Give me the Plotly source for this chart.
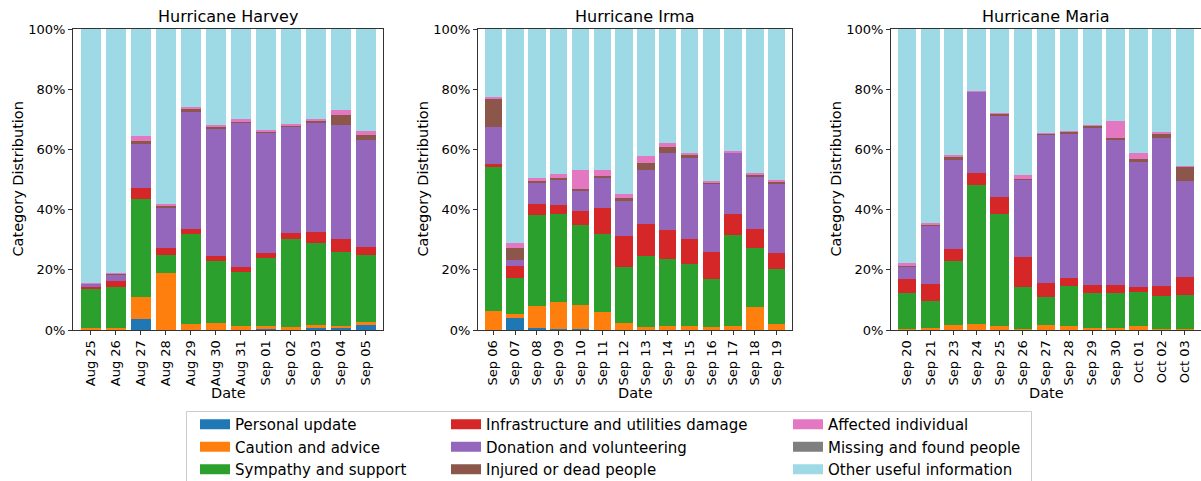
import plotly.graph_objects as go

# ---- categories and colours -------------------------------------------------
categories = [
    "Personal update",
    "Caution and advice",
    "Sympathy and support",
    "Infrastructure and utilities damage",
    "Donation and volunteering",
    "Injured or dead people",
    "Affected individual",
    "Missing and found people",
    "Other useful information",
]
colors = ["#1f77b4", "#ff7f0e", "#2ca02c", "#d62728", "#9467bd",
          "#8c564b", "#e377c2", "#7f7f7f", "#9edae5"]
storm_titles = ["Hurricane Harvey", "Hurricane Irma", "Hurricane Maria"]

# ---- Hurricane Harvey (share of tweets per day, %) ---------------------------
harvey_dates = ["Aug 25", "Aug 26", "Aug 27", "Aug 28", "Aug 29", "Aug 30",
                "Aug 31", "Sep 01", "Sep 02", "Sep 03", "Sep 04", "Sep 05"]
harvey_personal = [0.0, 0.0, 3.5, 0.0, 0.0, 0.0, 0.0, 0.4, 0.0, 0.6, 0.8, 1.7]
harvey_caution = [0.8, 0.8, 7.5, 18.9, 2.1, 2.3, 1.4, 0.8, 1.1, 1.1, 0.6, 1.1]
harvey_sympathy = [12.7, 13.5, 32.5, 6.0, 29.9, 20.7, 18.0, 22.7, 29.1, 27.2, 24.6, 22.1]
harvey_infra = [0.7, 2.1, 3.7, 2.3, 1.6, 1.6, 1.5, 1.7, 2.1, 3.8, 4.3, 2.6]
harvey_donation = [1.1, 2.2, 14.7, 13.2, 38.9, 42.1, 48.0, 40.0, 35.3, 36.4, 37.9, 35.7]
harvey_injured = [0.1, 0.1, 0.9, 0.9, 0.8, 0.9, 0.5, 0.4, 0.4, 0.4, 3.3, 1.6]
harvey_affected = [0.2, 0.2, 1.7, 0.7, 0.8, 0.5, 0.6, 0.4, 0.4, 0.5, 1.6, 1.4]
harvey_missing = [0.0, 0.0, 0.0, 0.0, 0.0, 0.0, 0.0, 0.0, 0.0, 0.0, 0.0, 0.0]
harvey_other = [84.4, 81.1, 35.5, 58.0, 25.9, 31.9, 30.0, 33.6, 31.6, 30.0, 26.9, 33.8]

# ---- Hurricane Irma ---------------------------------------------------------
irma_dates = ["Sep 06", "Sep 07", "Sep 08", "Sep 09", "Sep 10", "Sep 11", "Sep 12",
              "Sep 13", "Sep 14", "Sep 15", "Sep 16", "Sep 17", "Sep 18", "Sep 19"]
irma_personal = [0.0, 3.9, 0.6, 0.2, 0.4, 0.1, 0.0, 0.0, 0.0, 0.0, 0.0, 0.0, 0.0, 0.0]
irma_caution = [6.2, 1.4, 7.5, 9.2, 8.0, 6.0, 2.3, 1.0, 1.2, 1.2, 1.1, 1.2, 7.6, 2.1]
irma_sympathy = [47.8, 11.9, 30.1, 29.2, 26.4, 25.9, 18.6, 23.7, 22.5, 20.7, 16.0, 30.4, 19.8, 18.2]
irma_infra = [1.3, 4.2, 3.8, 3.0, 4.7, 8.5, 10.4, 10.6, 9.6, 8.3, 8.7, 7.0, 6.2, 5.4]
irma_donation = [12.0, 2.0, 7.1, 8.4, 6.8, 10.0, 11.4, 18.0, 25.6, 26.9, 22.8, 20.3, 17.3, 23.0]
irma_injured = [9.6, 4.0, 0.5, 0.5, 0.4, 0.7, 1.0, 2.1, 2.0, 1.2, 0.5, 0.2, 0.5, 0.6]
irma_affected = [0.5, 1.4, 0.8, 1.3, 6.6, 1.8, 1.6, 2.4, 1.2, 0.5, 0.3, 0.3, 0.8, 0.4]
irma_missing = [0.0, 0.0, 0.0, 0.0, 0.0, 0.0, 0.0, 0.0, 0.0, 0.0, 0.0, 0.0, 0.0, 0.0]
irma_other = [22.6, 71.2, 49.6, 48.2, 46.7, 47.0, 54.7, 42.2, 37.9, 41.2, 50.6, 40.6, 47.8, 50.3]

# ---- Hurricane Maria --------------------------------------------------------
maria_dates = ["Sep 20", "Sep 21", "Sep 23", "Sep 24", "Sep 25", "Sep 26", "Sep 27",
               "Sep 28", "Sep 29", "Sep 30", "Oct 01", "Oct 02", "Oct 03"]
maria_personal = [0.0, 0.0, 0.0, 0.0, 0.0, 0.0, 0.0, 0.0, 0.0, 0.0, 0.0, 0.0, 0.0]
maria_caution = [0.3, 0.8, 1.8, 2.0, 1.4, 0.2, 1.7, 1.3, 0.8, 0.7, 1.3, 0.2, 0.4]
maria_sympathy = [12.1, 8.7, 21.2, 46.2, 37.1, 14.2, 9.3, 13.4, 11.5, 11.5, 11.3, 11.0, 11.2]
maria_infra = [4.5, 5.9, 3.9, 4.0, 5.6, 10.0, 4.6, 2.6, 2.8, 2.8, 1.7, 3.5, 6.1]
maria_donation = [4.1, 19.4, 29.7, 26.9, 27.3, 25.7, 49.4, 47.9, 52.1, 48.3, 41.6, 49.2, 31.8]
maria_injured = [0.4, 0.2, 0.9, 0.3, 0.6, 0.2, 0.2, 0.8, 0.6, 0.4, 1.0, 1.1, 4.7]
maria_affected = [0.9, 0.5, 0.6, 0.1, 0.2, 1.1, 0.2, 0.2, 0.2, 5.6, 1.9, 0.7, 0.4]
maria_missing = [0.0, 0.0, 0.0, 0.0, 0.0, 0.0, 0.0, 0.0, 0.0, 0.0, 0.0, 0.0, 0.0]
maria_other = [77.7, 64.5, 41.9, 20.5, 27.8, 48.6, 34.6, 33.8, 32.0, 30.7, 41.2, 34.3, 45.4]

y_ticks = [0, 20, 40, 60, 80, 100]
y_tick_labels = ["0%", "20%", "40%", "60%", "80%", "100%"]

storms = [
    (harvey_dates, [harvey_personal, harvey_caution, harvey_sympathy, harvey_infra,
                    harvey_donation, harvey_injured, harvey_affected, harvey_missing,
                    harvey_other]),
    (irma_dates, [irma_personal, irma_caution, irma_sympathy, irma_infra,
                  irma_donation, irma_injured, irma_affected, irma_missing,
                  irma_other]),
    (maria_dates, [maria_personal, maria_caution, maria_sympathy, maria_infra,
                   maria_donation, maria_injured, maria_affected, maria_missing,
                   maria_other]),
]

# ---- layout geometry (pixels of a 1201 x 481 canvas) ------------------------
W, H = 1201, 481
FONT = "DejaVu Sans"
panel_px = [(73, 383), (478, 792), (891, 1201)]
plot_top, plot_bottom = 29, 330
y_dom = [1 - plot_bottom / H, 1 - plot_top / H]

legend_ids = ["legend", "legend2", "legend3"]

fig = go.Figure()
for p, (dates, series) in enumerate(storms):
    xa = "x" if p == 0 else f"x{p + 1}"
    ya = "y" if p == 0 else f"y{p + 1}"
    for c, (name, values) in enumerate(zip(categories, series)):
        fig.add_trace(go.Bar(
            x=dates, y=values, name=name,
            marker=dict(color=colors[c], line=dict(width=0)),
            xaxis=xa, yaxis=ya,
            legendgroup=name,
            showlegend=False,
            hovertemplate="%{x}<br>" + name + ": %{y:.1f}%<extra></extra>",
        ))

    axis_common = dict(showline=True, linecolor="#333333", linewidth=1, mirror=True,
                       ticks="outside", ticklen=4, tickwidth=1, tickcolor="#333333",
                       showgrid=False, zeroline=False, automargin=False,
                       tickfont=dict(family=FONT, size=13, color="black"))
    x0, x1 = panel_px[p]
    fig.layout[("xaxis" if p == 0 else f"xaxis{p + 1}")] = dict(
        axis_common, domain=[x0 / W, x1 / W], anchor=ya, type="category",
        range=[-0.7, len(dates) - 0.3], tickangle=-90)
    fig.layout[("yaxis" if p == 0 else f"yaxis{p + 1}")] = dict(
        axis_common, domain=y_dom, anchor=xa, range=[0, 100],
        tickmode="array", tickvals=y_ticks, ticktext=y_tick_labels)

    cx = (x0 + x1) / 2 / W
    # panel title
    fig.add_annotation(text=storm_titles[p], x=cx, y=1 - 28 / H, xref="paper", yref="paper",
                       xanchor="center", yanchor="bottom", showarrow=False,
                       font=dict(family=FONT, size=16, color="black"))
    # axis titles
    fig.add_annotation(text="Date", x=cx, y=1 - 393 / H, xref="paper", yref="paper",
                       xanchor="center", yanchor="middle", showarrow=False,
                       font=dict(family=FONT, size=14.5, color="black"))
    fig.add_annotation(text="Category Distribution", x=(x0 - 56) / W,
                       y=1 - (plot_top + plot_bottom) / 2 / H,
                       xref="paper", yref="paper", xanchor="center", yanchor="middle",
                       textangle=-90, showarrow=False,
                       font=dict(family=FONT, size=14.5, color="black"))

# legend entries: wide colour swatches, one per category, linked to the bars
for c, name in enumerate(categories):
    fig.add_trace(go.Scatter(
        x=[None], y=[None], mode="lines", name=name,
        line=dict(color=colors[c], width=10),
        legendgroup=name, legend=legend_ids[c // 3],
        showlegend=True, hoverinfo="skip", xaxis="x", yaxis="y",
    ))

# three legend columns inside one frame
legend_left_px = [195, 446, 788]
legend_top_px = 408
for i, lid in enumerate(legend_ids):
    fig.layout[lid] = dict(
        x=legend_left_px[i] / W, y=1 - legend_top_px / H, xanchor="left", yanchor="top",
        orientation="v", bgcolor="rgba(0,0,0,0)", borderwidth=0,
        tracegroupgap=0, font=dict(family=FONT, size=15, color="black"))

fig.add_shape(type="rect", xref="paper", yref="paper",
              x0=186.5 / W, x1=1031.5 / W, y0=-0.05, y1=1 - 411.5 / H,
              line=dict(color="#cccccc", width=1), fillcolor="rgba(255,255,255,0.8)",
              layer="below")

fig.update_layout(
    width=W, height=H, autosize=False,
    margin=dict(l=0, r=0, t=0, b=0, pad=0, autoexpand=False),
    barmode="stack", bargap=0.2,
    plot_bgcolor="white", paper_bgcolor="white",
    font=dict(family=FONT, color="black"),
)

fig.write_html("out.html")
